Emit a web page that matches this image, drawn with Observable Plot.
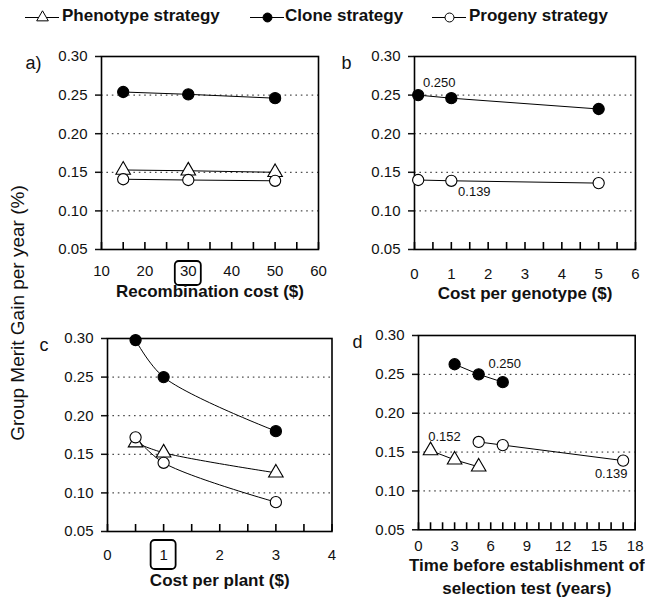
<!DOCTYPE html>
<html><head><meta charset="utf-8">
<script src="https://cdn.jsdelivr.net/npm/d3@7"></script>
<script src="https://cdn.jsdelivr.net/npm/@observablehq/plot@0.6"></script>
<style>
body{margin:0;background:#fff;font-family:"Liberation Sans",Arial,sans-serif;color:#111;}
#root{position:relative;width:645px;height:604px;overflow:hidden;background:#fff;}
.abs{position:absolute;}
</style></head><body><div id="root"></div>
<script>
// ---------- data ----------
const legendLabels = ["Phenotype strategy", "Clone strategy", "Progeny strategy"];
const yTicks = [0.05, 0.10, 0.15, 0.20, 0.25, 0.30];
const gridVals = [0.10, 0.15, 0.20, 0.25];
const yTitle = "Group Merit Gain per year (%)";

// panel a
const xA = [15, 30, 50];
const cloneA = [0.254, 0.251, 0.246];
const phenoA = [0.153, 0.152, 0.150];
const progenyA = [0.141, 0.140, 0.139];
const xTicksA = [10, 20, 30, 40, 50, 60];
const highlightA = [30];
// panel b
const xB = [0.1, 1, 5];
const cloneB = [0.250, 0.246, 0.232];
const progenyB = [0.140, 0.139, 0.136];
const xTicksB = [0, 1, 2, 3, 4, 5, 6];
const notesB = [{x: 0.1, y: 0.250, text: "0.250", dx: 21, dy: -12}, {x: 1, y: 0.139, text: "0.139", dx: 23, dy: 11}];
// panel c
const xC = [0.5, 1, 3];
const cloneC = [0.298, 0.250, 0.180];
const phenoC = [0.165, 0.152, 0.126];
const progenyC = [0.172, 0.139, 0.088];
const xTicksC = [0, 1, 2, 3, 4];
const highlightC = [1];
// panel d
const xCloneD = [3, 5, 7];
const cloneD = [0.263, 0.250, 0.240];
const xPhenoD = [1, 3, 5];
const phenoD = [0.152, 0.140, 0.131];
const xProgenyD = [5, 7, 17];
const progenyD = [0.163, 0.159, 0.139];
const xTicksD = [0, 3, 6, 9, 12, 15, 18];
const notesD = [{x: 5, y: 0.250, text: "0.250", dx: 26, dy: -11}, {x: 1, y: 0.152, text: "0.152", dx: 14, dy: -14}, {x: 17, y: 0.139, text: "0.139", dx: -12, dy: 13}];

// ---------- styles per strategy ----------
const styles = {
  pheno: {symbol: "triangle", r: 5.4, fill: "#fff", stroke: "#000"},
  clone: {symbol: "circle", r: 5.6, fill: "#000", stroke: "#000"},
  progeny: {symbol: "circle", r: 5.6, fill: "#fff", stroke: "#000"}
};

const root = document.getElementById("root");

function rows(xs, ys) { return xs.map((x, i) => ({x, y: ys[i]})); }

function panel(o) {
  const mL = 80, mT = 20, mR = 10, mB = o.mB || 74;
  const fw = o.fx1 - o.fx0, fh = o.fy1 - o.fy0;
  const marks = [
    Plot.ruleY(gridVals, {stroke: "#222", strokeWidth: 1, strokeDasharray: "1.6,3.8"}),
    Plot.tickX(o.minor, {x: d => d, insetTop: fh - 7, stroke: "#000", strokeWidth: 1.6}),
    Plot.axisY({ticks: yTicks, tickFormat: d3.format(".2f"), tickSize: 6, tickPadding: 8, fontSize: 15, label: null, strokeWidth: 1.5}),
    Plot.axisX({ticks: o.xTicks, tickFormat: d3.format("d"), tickSize: 0, tickPadding: o.tickPad || 16, fontSize: 15, label: null}),
    Plot.frame({stroke: "#000", strokeWidth: 1.6})
  ];
  for (const s of o.series) {
    marks.push(Plot.line(rows(s.x, s.y), {x: "x", y: "y", stroke: "#000", strokeWidth: 1, curve: o.curve || "linear"}));
  }
  for (const s of o.series) {
    const st = styles[s.kind];
    marks.push(Plot.dot(rows(s.x, s.y), {x: "x", y: "y", symbol: st.symbol, r: st.r, fill: st.fill, stroke: st.stroke, strokeWidth: 1.1}));
  }
  if (o.notes) for (const n of o.notes) {
    marks.push(Plot.text([n], {x: "x", y: "y", text: "text", dx: n.dx, dy: n.dy, fontSize: 13, fill: "#111"}));
  }
  if (o.highlight) {
    const hv = o.highlight;
    marks.push((index, scales, values, dims) => {
      const g = d3.create("svg:g");
      for (const v of hv) {
        g.append("rect")
          .attr("x", scales.x(v) - o.box.w / 2)
          .attr("y", dims.height - dims.marginBottom + o.box.dy)
          .attr("width", o.box.w).attr("height", o.box.h)
          .attr("rx", 4).attr("fill", "none").attr("stroke", "#000").attr("stroke-width", 1.8);
      }
      return g.node();
    });
  }
  o.title.forEach((line, i) => {
    marks.push(Plot.text([line], {frameAnchor: "bottom", dy: o.titleDy[i], fontWeight: "bold", fontSize: 17, fill: "#111"}));
  });
  marks.push(Plot.text([o.letter], {frameAnchor: "top-left", dx: o.letterDx, dy: o.letterDy || 0, fontSize: 18, textAnchor: "start", fill: "#111"}));
  const chart = Plot.plot({
    width: fw + mL + mR, height: fh + mT + mB,
    marginLeft: mL, marginRight: mR, marginTop: mT, marginBottom: mB,
    x: {domain: o.xDomain, axis: null},
    y: {domain: [0.05, 0.30], axis: null},
    style: {fontFamily: "'Liberation Sans', Arial, sans-serif", color: "#111", background: "transparent", overflow: "visible"},
    marks
  });
  chart.style.position = "absolute";
  chart.style.left = (o.fx0 - mL) + "px";
  chart.style.top = (o.fy0 - mT) + "px";
  root.appendChild(chart);
}

panel({fx0: 101, fx1: 318, fy0: 56, fy1: 249, xDomain: [10, 60], xTicks: xTicksA,
  minor: d3.range(10, 61, 5), letter: "a)", letterDx: -76, title: ["Recombination cost ($)"], titleDy: [47], tickPad: 16,
  highlight: highlightA, box: {w: 26, dy: 12, h: 24},
  series: [{kind: "clone", x: xA, y: cloneA}, {kind: "pheno", x: xA, y: phenoA}, {kind: "progeny", x: xA, y: progenyA}]});

panel({fx0: 414, fx1: 635, fy0: 56, fy1: 249, xDomain: [0, 6], xTicks: xTicksB,
  minor: d3.range(0, 6.01, 0.5), letter: "b", letterDx: -73, title: ["Cost per genotype ($)"], titleDy: [49], tickPad: 19,
  notes: notesB,
  series: [{kind: "clone", x: xB, y: cloneB}, {kind: "progeny", x: xB, y: progenyB}]});

panel({fx0: 106.5, fx1: 331, fy0: 337.7, fy1: 530.7, xDomain: [0, 4], xTicks: xTicksC,
  minor: d3.range(0, 4.01, 0.5), letter: "c", letterDx: -68, title: ["Cost per plant ($)"], titleDy: [54], tickPad: 18,
  highlight: highlightC, box: {w: 25, dy: 9, h: 29}, curve: "catmull-rom",
  series: [{kind: "clone", x: xC, y: cloneC}, {kind: "pheno", x: xC, y: phenoC}, {kind: "progeny", x: xC, y: progenyC}]});

panel({fx0: 418.3, fx1: 635, fy0: 335, fy1: 529.3, xDomain: [0, 18], xTicks: xTicksD,
  minor: d3.range(0, 18.01, 1), letter: "d", letterDx: -66, title: ["Time before establishment of", "selection test (years)"], titleDy: [41, 64], tickPad: 11,
  notes: notesD,
  series: [{kind: "clone", x: xCloneD, y: cloneD}, {kind: "pheno", x: xPhenoD, y: phenoD}, {kind: "progeny", x: xProgenyD, y: progenyD}]});

// y-axis title
const yt = document.createElement("div");
yt.className = "abs";
yt.textContent = yTitle;
Object.assign(yt.style, {left: "18px", top: "313px", fontSize: "19px", whiteSpace: "nowrap", transform: "translate(-50%,-50%) rotate(-90deg)", color: "#111"});
root.appendChild(yt);

// legend
const legendPos = [{line: 25, text: 62}, {line: 250, text: 285}, {line: 432, text: 469}];
const legendKinds = ["pheno", "clone", "progeny"];
legendLabels.forEach((lab, i) => {
  const st = styles[legendKinds[i]];
  const sw = Plot.plot({
    width: 34, height: 20, margin: 0,
    x: {domain: [0, 1], axis: null}, y: {domain: [0, 1], axis: null},
    style: {background: "transparent", overflow: "visible"},
    marks: [
      Plot.ruleY([0.5], {stroke: "#000", strokeWidth: 1.2}),
      Plot.dot([{x: 0.5, y: 0.5}], {x: "x", y: "y", symbol: st.symbol, r: st.r * 0.8, fill: st.fill, stroke: st.stroke, strokeWidth: 1})
    ]
  });
  sw.style.position = "absolute";
  sw.style.left = legendPos[i].line + "px";
  sw.style.top = "7px";
  root.appendChild(sw);
  const t = document.createElement("div");
  t.className = "abs";
  t.textContent = lab;
  Object.assign(t.style, {left: legendPos[i].text + "px", top: "6px", fontSize: "17px", fontWeight: "bold", lineHeight: "20px", whiteSpace: "nowrap", color: "#111"});
  root.appendChild(t);
});
</script>
</body></html>
